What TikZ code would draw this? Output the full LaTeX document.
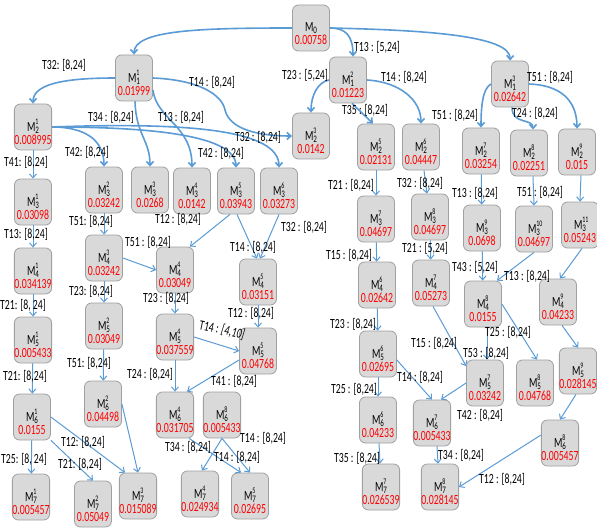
\documentclass[tikz,border=0pt]{standalone}
\usepackage{fontspec}
\setmainfont{Carlito}[FakeStretch=0.7]
\usetikzlibrary{arrows.meta,calc}
\definecolor{edgeblue}{HTML}{5B9BD5}
\definecolor{boxfill}{HTML}{D9D9D9}
\definecolor{boxdraw}{HTML}{A0A0A0}
\definecolor{valred}{HTML}{FF0000}
\newcommand{\mk}[3]{\rule{0pt}{23pt}M\rlap{\raisebox{7pt}{\fontsize{8.5}{8.5}\selectfont #1\vphantom{1}}}\raisebox{-1.5pt}{\fontsize{10}{10}\selectfont #2}\\\textcolor{valred}{#3}}
\newcommand{\mkz}[2]{\rule{0pt}{21pt}M\raisebox{-1.5pt}{\fontsize{10}{10}\selectfont #1}\\\textcolor{valred}{#2}}
\tikzset{
 mbox/.style={draw=boxdraw, fill=boxfill, rounded corners=6pt, minimum width=37pt, minimum height=46pt, inner sep=0pt, align=center, font=\fontsize{14}{13}\selectfont, line width=0.8pt},
 ethick/.style={draw=edgeblue, line width=1.6pt, -{Straight Barb[length=4pt,width=7pt]}},
 ethin/.style={draw=edgeblue, line width=1pt, -{Straight Barb[length=4pt,width=7pt]}},
 lab/.style={font=\fontsize{14}{14}\selectfont, inner sep=0pt},
}
\begin{document}
\begin{tikzpicture}[x=1pt,y=-1pt]
\useasboundingbox (0,0) rectangle (597,532);
% nodes
\node[mbox] (n0) at (311,28) {\mkz{0}{0.00758}};
\node[mbox] (n11) at (134,78) {\mk{1}{1}{0.01999}};
\node[mbox] (n12) at (348,80) {\mk{2}{1}{0.01223}};
\node[mbox] (n13) at (510,84) {\mk{3}{1}{0.02642}};
\node[mbox] (n21) at (33,127) {\mk{1}{2}{0.008995}};
\node[mbox] (n23) at (311,136) {\mk{3}{2}{0.0142}};
\node[mbox] (n25) at (376,147) {\mk{5}{2}{0.02131}};
\node[mbox] (n26) at (421,147) {\mk{6}{2}{0.04447}};
\node[mbox] (n27) at (481,151) {\mk{7}{2}{0.03254}};
\node[mbox] (n28) at (529,153) {\mk{8}{2}{0.02251}};
\node[mbox] (n29) at (577,152) {\mk{9}{2}{0.015}};
\node[mbox] (n31) at (33,202) {\mk{1}{3}{0.03098}};
\node[mbox] (n32) at (104,190) {\mk{2}{3}{0.03242}};
\node[mbox] (n33) at (150,190) {\mk{3}{3}{0.0268}};
\node[mbox] (n34) at (192,191) {\mk{4}{3}{0.0142}};
\node[mbox] (n35) at (236,191) {\mk{5}{3}{0.03943}};
\node[mbox] (n36) at (279,191) {\mk{6}{3}{0.03273}};
\node[mbox] (n37) at (376,219) {\mk{7}{3}{0.04697}};
\node[mbox] (n38) at (430,217) {\mk{8}{3}{0.04697}};
\node[mbox] (n39) at (482,228) {\mk{9}{3}{0.0698}};
\node[mbox] (n310) at (534,229) {\mk{10}{3}{0.04697}};
\node[mbox] (n311) at (580,225) {\mk{11}{3}{0.05243}};
\node[mbox] (n41) at (33,271) {\mk{1}{4}{0.034139}};
\node[mbox] (n43) at (104,258) {\mk{3}{4}{0.03242}};
\node[mbox] (n44) at (175,270) {\mk{4}{4}{0.03049}};
\node[mbox] (n45) at (258,282) {\mk{5}{4}{0.03151}};
\node[mbox] (n46) at (377,285) {\mk{6}{4}{0.02642}};
\node[mbox] (n47) at (431,283) {\mk{7}{4}{0.05273}};
\node[mbox] (n48) at (483,304) {\mk{8}{4}{0.0155}};
\node[mbox] (n49) at (558,302) {\mk{9}{4}{0.04233}};
\node[mbox] (n51) at (33,340) {\mk{1}{5}{0.005433}};
\node[mbox] (n52) at (104,326) {\mk{2}{5}{0.03049}};
\node[mbox] (n54) at (175,337) {\mk{4}{5}{0.037559}};
\node[mbox] (n55) at (258,351) {\mk{5}{5}{0.04768}};
\node[mbox] (n56) at (378,354) {\mk{6}{5}{0.02695}};
\node[mbox] (n57) at (485,383) {\mk{7}{5}{0.03242}};
\node[mbox] (n58) at (535,383) {\mk{8}{5}{0.04768}};
\node[mbox] (n59) at (578,371) {\mk{9}{5}{0.028145}};
\node[mbox] (n61) at (32,417) {\mk{1}{6}{0.0155}};
\node[mbox] (n62) at (103,404) {\mk{2}{6}{0.04498}};
\node[mbox] (n64) at (175,415) {\mk{4}{6}{0.031705}};
\node[mbox] (n68) at (222,415) {\mk{8}{6}{0.005433}};
\node[mbox] (n66) at (378,420) {\mk{6}{6}{0.04233}};
\node[mbox] (n67) at (432,423) {\mk{7}{6}{0.005433}};
\node[mbox] (n68r) at (560,443) {\mk{8}{6}{0.005457}};
\node[mbox] (n71) at (31,497) {\mk{1}{7}{0.005457}};
\node[mbox] (n72) at (93,504) {\mk{2}{7}{0.05049}};
\node[mbox] (n73) at (138,496) {\mk{3}{7}{0.015089}};
\node[mbox] (n74) at (200,494) {\mk{4}{7}{0.024934}};
\node[mbox] (n75) at (250,496) {\mk{5}{7}{0.02695}};
\node[mbox] (n77) at (381,487) {\mk{7}{7}{0.026539}};
\node[mbox] (n78) at (440,487) {\mk{8}{7}{0.028145}};
% thick top edges
\draw[ethick] (n0.west) .. controls (200,28) and (134,30) .. (n11.north);
\draw[ethick] (n0.east) .. controls (345,28) and (353,35) .. ([xshift=5pt]n12.north);
\draw[ethick] (n0.east) .. controls (420,30) and (511,35) .. (n13.north);
\draw[ethick] (n11.west) .. controls (60,78) and (33,85) .. (n21.north);
\draw[ethick] (n11.east) .. controls (200,80) and (222,95) .. (225,110) .. controls (230,130) and (260,136) .. (n23.west);
\draw[ethick] ([xshift=1pt]n11.south) .. controls (136,135) and (150,140) .. (n33.north);
\draw[ethick] ([yshift=-12pt]n11.east) .. controls (157,120) and (192,125) .. (n34.north);
\draw[ethick] (n21.east) .. controls (85,127) and (104,140) .. (n32.north);
\draw[ethick] (n21.east) .. controls (150,127) and (236,135) .. (n35.north);
\draw[ethick] (n21.east) .. controls (190,122) and (279,130) .. (n36.north);
\draw[ethin] (n21) -- (n31);
\draw[ethick] (n12.west) .. controls (318,82) and (311,95) .. (n23.north);
\draw[ethick] ([xshift=4pt]n12.south) -- ([xshift=-3pt]n25.north);
\draw[ethick] (n12.east) .. controls (400,82) and (421,100) .. (n26.north);
\draw[ethick] (n13.west) .. controls (483,88) and (481,105) .. (n27.north);
\draw[ethick] ([xshift=2pt]n13.south) .. controls (512,125) and (533,118) .. ([xshift=4pt]n28.north);
\draw[ethick] (n13.east) .. controls (560,85) and (577,100) .. (n29.north);
% thin edges left
\draw[ethin] (n31) -- (n41);
\draw[ethin] (n41) -- (n51);
\draw[ethin] (n51) -- (n61);
\draw[ethin] (n61) -- (n71);
\draw[ethin] (n61.-51) -- (n72.north);
\draw[ethin] (n61.east) -- ([xshift=-13pt]n73.north);
\draw[ethin] (n62.east) -- (n73.north);
\draw[ethin] (n32) -- (n43);
\draw[ethin] (n43) -- (n52);
\draw[ethin] (n52) -- (n62);
\draw[ethin] (n43.east) -- (n44.west);
\draw[ethin] ([xshift=-6pt]n35.south) -- ([xshift=15pt]n44.north);
\draw[ethin] ([xshift=1pt]n35.south) -- ([xshift=-1pt]n45.north);
\draw[ethin] (n36.south) -- ([xshift=2pt]n45.north);
\draw[ethin] (n44) -- (n54);
\draw[ethin] (n45) -- (n55);
\draw[ethin] (n54.east) -- (n55.west);
\draw[ethin] (n54) -- (n64);
\draw[ethin] ([yshift=-9pt]n55.west) -- ([xshift=12pt]n64.north);
\draw[ethin] (n64.-59) -- ([xshift=-9pt]n75.north);
\draw[ethin] (n68.south) -- ([xshift=2pt]n74.north);
\draw[ethin] (n68.south) -- (n75.north);
% thin edges right
\draw[ethin] (n25) -- (n37);
\draw[ethin] (n26) -- (n38);
\draw[ethin] (n27) -- (n39);
\draw[ethin] ([xshift=4pt]n28.south) -- (n310.north);
\draw[ethin] ([xshift=4pt]n29.south) -- (n311.north);
\draw[ethin] (n37) -- (n46);
\draw[ethin] (n38) -- (n47);
\draw[ethin] (n39) -- (n48);
\draw[ethin] (n310.south) -- ([xshift=14pt]n48.north);
\draw[ethin] ([xshift=2pt]n311.south) -- ([xshift=2pt]n49.north);
\draw[ethin] (n46) -- (n56);
\draw[ethin] ([xshift=2pt]n47.south) -- ([yshift=17pt]n57.west);
\draw[ethin] ([xshift=4pt]n48.south) -- ([xshift=2pt]n57.north);
\draw[ethin] (n48.east) -- ([xshift=2pt]n58.north);
\draw[ethin] ([xshift=4pt]n49.south) -- (n59.north);
\draw[ethin] (n56) -- (n66);
\draw[ethin] ([yshift=-6pt]n56.east) -- (n67.north);
\draw[ethin] (n57.west) -- ([xshift=9pt]n67.north);
\draw[ethin] ([xshift=-2pt]n59.south) -- (n68r.north);
\draw[ethin] (n66) -- (n77);
\draw[ethin] ([xshift=5pt]n67.south) -- ([xshift=-2pt]n78.north);
\draw[ethin] ([yshift=8pt]n68r.west) -- (n78.east);
% labels
\node[lab] (l1) at (64,65) {T32: [8,24]};
\node[lab] (l2) at (212,82) {T14 : [8,24]};
\node[lab] (l3) at (111,117) {T34 : [8,24]};
\node[lab] (l4) at (181,117) {T13 : [8,24]};
\node[lab] (l5) at (258,137) {T32 : [8,24]};
\node[lab] (l6) at (87,152) {T42: [8,24]};
\node[lab] (l7) at (221,153) {T42 : [8,24]};
\node[lab] (l8) at (26,162) {T41: [8,24]};
\node[lab] (l9) at (377,47) {T13 : [5,24]};
\node[lab] (l10) at (305,75) {T23 : [5,24]};
\node[lab] (l11) at (404,77) {T14 : [8,24]};
\node[lab] (l12) at (365,110) {T35 : [8,24]};
\node[lab] (l13) at (455,115) {T51 : [8,24]};
\node[lab] (l14) at (535,113) {T24 : [8,24]};
\node[lab] (l15) at (550,77) {T51 : [8,24]};
\node[lab] (l16) at (26,234) {T13: [8,24]};
\node[lab] (l17) at (23,305) {T21: [8, 24]};
\node[lab] (l18) at (25,376) {T21: [8,24]};
\node[lab] (l19) at (24,459) {T25: [8, 24]};
\node[lab] (l20) at (80,464) {T21: [8,24]};
\node[lab] (l21) at (83,442) {T12: [8,24]};
\node[lab] (l22) at (91,221) {T51: [8,24]};
\node[lab] (l23) at (91,291) {T23: [8,24]};
\node[lab] (l24) at (89,363) {T51: [8,24]};
\node[lab] (l25) at (148,242) {T51 : [8,24]};
\node[lab] (l26) at (178,219) {T12 : [8,24]};
\node[lab] (l27) at (253,247) {T14 : [8,24]};
\node[lab] (l28) at (304,227) {T32 : [8,24]};
\node[lab] (l29) at (166,298) {T23 : [8,24]};
\node[lab] (l30) at (251,313) {T12 : [8,24]};
\node[lab, rotate=-12] (l31) at (222,330) {T14 : \textit{[4,10]}};
\node[lab] (l32) at (150,374) {T24 : [8,24]};
\node[lab] (l33) at (234,381) {T41 : [8,24]};
\node[lab] (l34) at (188,447) {T34 : [8,24]};
\node[lab] (l35) at (263,438) {T14 : [8,24]};
\node[lab] (l36) at (237,457) {T14 : [8,24]};
\node[lab] (l37) at (351,185) {T21 : [8,24]};
\node[lab] (l38) at (420,183) {T32 : [8,24]};
\node[lab] (l39) at (475,193) {T13 : [8,24]};
\node[lab] (l40) at (540,192) {T51 : [8,24]};
\node[lab] (l41) at (349,255) {T15 : [8,24]};
\node[lab] (l42) at (425,248) {T21 : [5,24]};
\node[lab] (l43) at (475,267) {T43 : [5,24]};
\node[lab] (l44) at (527,276) {T13 : [8,24]};
\node[lab] (l45) at (353,324) {T23 : [8,24]};
\node[lab] (l46) at (434,343) {T15 : [8,24]};
\node[lab] (l47) at (508,332) {T25 : [8,24]};
\node[lab] (l48) at (486,353) {T53 : [8,24]};
\node[lab] (l49) at (354,389) {T25 : [8,24]};
\node[lab] (l50) at (420,377) {T14 : [8,24]};
\node[lab] (l51) at (480,415) {T42 : [8,24]};
\node[lab] (l52) at (357,458) {T35 : [8,24]};
\node[lab] (l53) at (461,455) {T34 : [8,24]};
\node[lab] (l54) at (502,479) {T12 : [8,24]};
\end{tikzpicture}
\end{document}
